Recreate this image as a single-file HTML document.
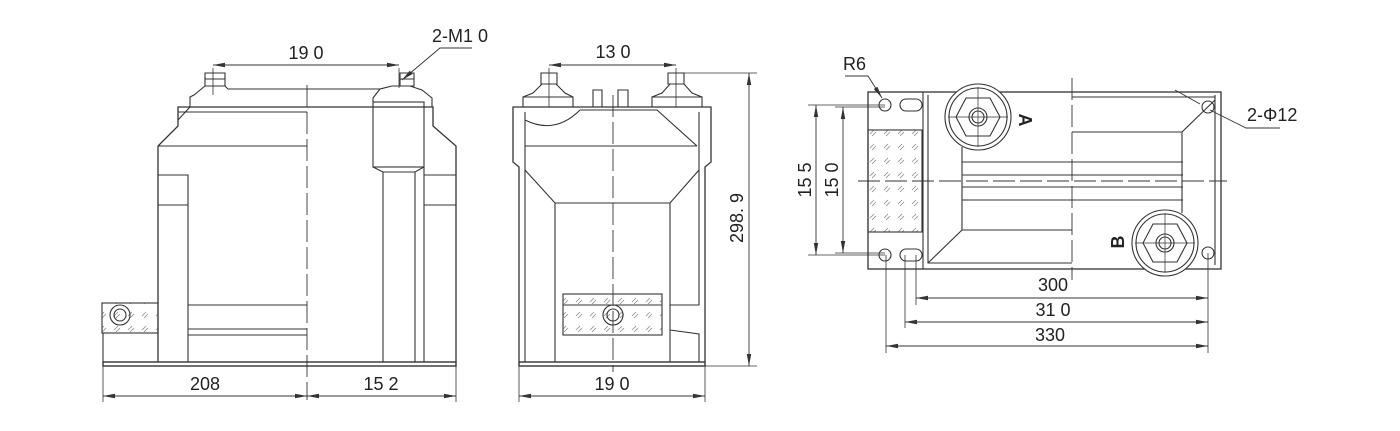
<!DOCTYPE html>
<html><head><meta charset="utf-8"><style>
html,body{margin:0;padding:0;background:#fff;}
svg{display:block;}
text{font-family:"Liberation Sans",sans-serif;font-size:18px;fill:#222;}
</style></head><body>
<svg width="1400" height="431" viewBox="0 0 1400 431" xmlns="http://www.w3.org/2000/svg">
<defs>
<marker id="a" markerWidth="12" markerHeight="6" refX="12" refY="3" orient="auto-start-reverse" markerUnits="userSpaceOnUse"><path d="M0,0.8 L12,3 L0,5.2 z" fill="#333"/></marker>
<pattern id="h" width="14" height="14" patternUnits="userSpaceOnUse"><path d="M2,8 L6,4 M4,10 L8,6" stroke="#888" stroke-width="0.8"/></pattern>
</defs>
<g fill="none" stroke="#333" stroke-width="1.1">
<!-- LEFT VIEW -->
<rect x="103" y="362" width="353" height="4" stroke-width="1.4"/>
<path d="M158,362 V146 L178,126 V107 H433 V126 L456,146 V362" stroke-width="1.3"/>
<path d="M103,362 V333"/>
<rect x="102" y="303" width="56" height="30" fill="url(#h)"/>
<circle cx="120" cy="315" r="10"/><circle cx="120" cy="315" r="6"/>
<path d="M190,107 V97 L194,95 L205,86 H225 L228,89"/>
<path d="M205,73 h20 v13 h-20z M205,79 h20"/>
<path d="M178,112 H307 M158,146 H307 M190,107 L178,120"/>
<path d="M228,89 H380"/>
<rect x="373" y="102" width="51" height="65"/>
<path d="M373,167 L383,172 H415 L424,167 M383,172 V362 M415,172 V362 M424,167 V362"/>
<path d="M373,102 V98 L380,89 L392,86 H410 L422,90 L432,98 V107 M400,73 h14 v13 h-14z M400,79 h14"/>
<path d="M158,175 H188 V362 M158,205 H188 M188,305 H307 M188,329 H307 M188,335 H307"/>
<path d="M424,175 H456 M424,205 H456"/>
<path d="M307,85 V400" stroke-dasharray="22,5" stroke-width="0.9"/>
<path d="M213,68 V95 M399,68 V88" stroke-width="0.8"/>
<path d="M213,65 H399" marker-start="url(#a)" marker-end="url(#a)" stroke-width="0.9"/>
<path d="M402,80 L440,48 H472" stroke-width="0.9" marker-start="url(#a)"/>
<path d="M103,366 V402 M456,366 V402" stroke-width="0.8"/>
<path d="M103,396 H307" marker-start="url(#a)" marker-end="url(#a)" stroke-width="0.9"/>
<path d="M307,396 H456" marker-start="url(#a)" marker-end="url(#a)" stroke-width="0.9"/>
<!-- MIDDLE VIEW -->
<rect x="519" y="362" width="186" height="4" stroke-width="1.4"/>
<path d="M519,362 V167 L513,162 V107 H711 V162 L705,167 V362" stroke-width="1.3"/>
<path d="M523,107 V97 L533,93 L542,84 H556 L565,93 L573,97 V107 M652,107 V97 L662,93 L670,84 H684 L692,93 L702,97 V107"/>
<path d="M523,97 H573 M652,97 H702"/>
<path d="M541,73 h16 v11 h-16z M668,73 h16 v11 h-16z"/>
<path d="M593,107 V90 H602 V107 M618,107 V90 H628 V107"/>
<path d="M525,112 V362 M699,112 V305 H670 M525,120 Q555,135 580,110 M580,110 H657 L697,146 M525,146 H697"/>
<path d="M525,170 L555,203 H670 L699,170 M555,203 V362 M670,203 V362 M670,330 L699,334 V362"/>
<rect x="563" y="294" width="99" height="41" fill="url(#h)"/>
<path d="M563,305 H662"/>
<circle cx="613" cy="315" r="10"/><circle cx="613" cy="315" r="6"/>
<path d="M613,95 V372" stroke-dasharray="22,5" stroke-width="0.9"/>
<path d="M549,68 V107 M676,68 V107" stroke-width="0.8"/>
<path d="M549,65 H676" marker-start="url(#a)" marker-end="url(#a)" stroke-width="0.9"/>
<path d="M684,73 H757 M705,366 H757" stroke-width="0.8"/>
<path d="M749,73 V366" marker-start="url(#a)" marker-end="url(#a)" stroke-width="0.9"/>
<path d="M519,366 V402 M705,366 V402" stroke-width="0.8"/>
<path d="M519,396 H705" marker-start="url(#a)" marker-end="url(#a)" stroke-width="0.9"/>
<!-- RIGHT VIEW -->
<rect x="868" y="92" width="353" height="177" stroke-width="1.3"/>
<path d="M923,92 V269 M928,95 V263 H1072 M1215,95 V265"/>
<rect x="868" y="130" width="54" height="102" fill="url(#h)"/>
<circle cx="978" cy="117" r="33" fill="#fff"/><circle cx="978" cy="117" r="29"/>
<path d="M966,98 H990 L1000,117 L990,136 H966 L956,117z"/>
<circle cx="978" cy="117" r="9"/><circle cx="978" cy="117" r="6"/>
<path d="M948,117 H1008 M978,87 V147" stroke-width="0.7"/>
<path d="M962,147 V230 H1072 M962,230 L928,263"/>
<path d="M962,162 H1183 M962,175 H1183 M962,187 H1183 M962,200 H1183"/>
<path d="M1072,97 H1215 M1072,132 H1182 V213 M1182,132 L1215,100"/>
<circle cx="1165" cy="243" r="33" fill="#fff"/><circle cx="1165" cy="243" r="29"/>
<path d="M1153,224 H1177 L1187,243 L1177,262 H1153 L1143,243z"/>
<circle cx="1165" cy="243" r="9"/><circle cx="1165" cy="243" r="6"/>
<path d="M1135,243 H1195 M1165,213 V273" stroke-width="0.7"/>
<circle cx="885" cy="105" r="6"/><circle cx="885" cy="255" r="6"/>
<circle cx="1208" cy="107" r="6"/><circle cx="1208" cy="253" r="6"/>
<rect x="900" y="99" width="22" height="12" rx="6"/><rect x="900" y="249" width="22" height="12" rx="6"/>
<path d="M1072,78 V280 M858,181 H1227" stroke-dasharray="22,5" stroke-width="0.9"/>
<path d="M808,105 H885 M835,107 H885 M808,255 H885 M835,253 H885" stroke-width="0.8"/>
<path d="M816,105 V255" marker-start="url(#a)" marker-end="url(#a)" stroke-width="0.9"/>
<path d="M843,107 V253" marker-start="url(#a)" marker-end="url(#a)" stroke-width="0.9"/>
<path d="M886,255 V353 M905,255 V328 M916,255 V305 M1208,253 V353" stroke-width="0.8"/>
<path d="M916,298 H1208" marker-start="url(#a)" marker-end="url(#a)" stroke-width="0.9"/>
<path d="M905,322 H1208" marker-start="url(#a)" marker-end="url(#a)" stroke-width="0.9"/>
<path d="M886,346 H1208" marker-start="url(#a)" marker-end="url(#a)" stroke-width="0.9"/>
<path d="M845,76 H868 L882,98" stroke-width="0.9" marker-end="url(#a)"/>
<path d="M1280,128 H1246 L1210,110 M1175,90 L1200,104" stroke-width="0.9"/>
</g>
<g>
<text x="306" y="59" text-anchor="middle">19 0</text>
<text x="432" y="42">2-M1   0</text>
<text x="205" y="390" text-anchor="middle">208</text>
<text x="381" y="390" text-anchor="middle">15 2</text>
<text x="613" y="58" text-anchor="middle">13 0</text>
<text x="612" y="390" text-anchor="middle">19 0</text>
<text transform="translate(743,218) rotate(-90)" text-anchor="middle">298.  9</text>
<text x="843" y="70">R6</text>
<text x="1247" y="121">2-Φ12</text>
<text transform="translate(1019,120) rotate(90)" text-anchor="middle" style="font-weight:bold">A</text>
<text transform="translate(1124,242) rotate(-90)" text-anchor="middle" style="font-weight:bold">B</text>
<text transform="translate(811,180) rotate(-90)" text-anchor="middle">15 5</text>
<text transform="translate(838,180) rotate(-90)" text-anchor="middle">15 0</text>
<text x="1053" y="291" text-anchor="middle">300</text>
<text x="1053" y="316" text-anchor="middle">31 0</text>
<text x="1050" y="341" text-anchor="middle">330</text>
</g>
</svg>
</body></html>
